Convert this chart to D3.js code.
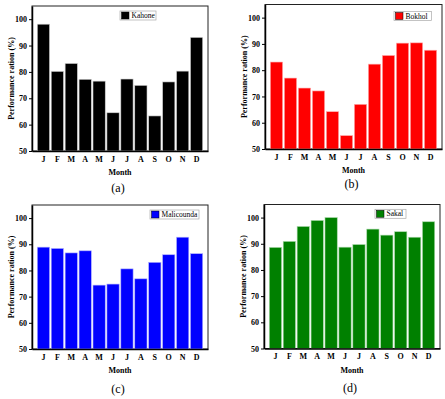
<!DOCTYPE html>
<html><head><meta charset="utf-8">
<script src="https://cdn.jsdelivr.net/npm/d3@7"></script>
<style>body{margin:0;background:#fff}svg{display:block}</style>
</head><body>
<script>
const months = ["J","F","M","A","M","J","J","A","S","O","N","D"];
const yTicks = [50,60,70,80,90,100];
const kahone = [98.1,80.2,83.2,77.2,76.5,64.5,77.3,74.9,63.3,76.2,80.3,93.1];
const bokhol = [83.1,77.0,73.2,72.1,64.2,55.1,67.0,82.3,85.6,90.3,90.4,87.6];
const malicounda = [88.9,88.4,86.7,87.5,74.4,74.8,80.6,76.8,83.1,86.0,92.7,86.4];
const sakal = [88.6,90.9,96.6,98.9,100.0,88.7,89.7,95.6,93.3,94.6,92.5,98.4];
const seriesNames = ["Kahone","Bokhol","Malicounda","Sakal"];
const panelLabels = ["(a)","(b)","(c)","(d)"];

const panels = [
  {values:kahone, name:seriesNames[0], tag:panelLabels[0], color:"#000000", edge:"#cfcfcf",
   box:[32,6,208,151], leg:[120,11,36], tagDy:41},
  {values:bokhol, name:seriesNames[1], tag:panelLabels[1], color:"#ff0000", edge:"#ffb0b0",
   box:[265,4.5,442,149], leg:[394,11.5,37.5], tagDy:39},
  {values:malicounda, name:seriesNames[2], tag:panelLabels[2], color:"#0000ff", edge:"#b0b0ff",
   box:[32,205,208,349], leg:[150,210,49], tagDy:44},
  {values:sakal, name:seriesNames[3], tag:panelLabels[3], color:"#008000", edge:"#a8d8a8",
   box:[264,204.5,440,348.5], leg:[375,209.3,31], tagDy:43}
];

const svg = d3.select("body").append("svg").attr("width",445).attr("height",399);
const font = "'Liberation Serif','Times New Roman',serif";

panels.forEach(p => {
  const [l,t,r,b] = p.box;
  const g = svg.append("g");
  const x = d3.scaleBand().domain(d3.range(months.length)).range([l,r]).paddingInner(0.12).paddingOuter(0.38);
  const y = d3.scaleLinear().domain([50,105]).range([b,t]);

  // frame
  g.append("rect").attr("x",l).attr("y",t).attr("width",r-l).attr("height",b-t)
    .attr("fill","none").attr("stroke","#222").attr("stroke-width",1);

  // bars
  g.selectAll("rect.bar").data(p.values).join("rect").attr("class","bar")
    .attr("x",(d,i)=>x(i)).attr("width",x.bandwidth())
    .attr("y",d=>y(d)).attr("height",d=>y(50)-y(d))
    .attr("fill",p.color).attr("stroke",p.edge).attr("stroke-width",0.6);

  // y axis
  const ya = g.append("g").attr("transform",`translate(${l},0)`)
    .call(d3.axisLeft(y).tickValues(yTicks).tickSize(3).tickSizeOuter(0).tickPadding(2));
  ya.select(".domain").attr("stroke","#000").attr("stroke-width",1.5);
  ya.selectAll(".tick line").attr("stroke","#000").attr("stroke-width",1);
  ya.selectAll("text").attr("font-family",font).attr("font-weight","bold").attr("font-size",8).attr("fill","#000");

  // x axis
  const xa = g.append("g").attr("transform",`translate(0,${b})`)
    .call(d3.axisBottom(x).tickFormat(i=>months[i]).tickSize(0).tickSizeOuter(0).tickPadding(5));
  xa.select(".domain").attr("stroke","#000").attr("stroke-width",1.5);
  xa.selectAll("text").attr("font-family",font).attr("font-weight","bold").attr("font-size",8).attr("fill","#000");

  // axis titles
  g.append("text").attr("x",(l+r)/2).attr("y",b+24).attr("text-anchor","middle")
    .attr("font-family",font).attr("font-weight","bold").attr("font-size",8).text("Month");
  g.append("text").attr("transform",`translate(${l-18},${(t+b)/2}) rotate(-90)`).attr("text-anchor","middle")
    .attr("font-family",font).attr("font-weight","bold").attr("font-size",8).text("Performance ration (%)");
  g.append("text").attr("x",(l+r)/2-2).attr("y",b+p.tagDy).attr("text-anchor","middle")
    .attr("font-family",font).attr("font-size",12).text(p.tag);

  // legend
  const [lx,ly,lw] = p.leg;
  g.append("rect").attr("x",lx).attr("y",ly).attr("width",lw).attr("height",9)
    .attr("fill","#fff").attr("stroke","#aaa").attr("stroke-width",0.7);
  g.append("rect").attr("x",lx+1.5).attr("y",ly+1).attr("width",7.5).attr("height",7)
    .attr("fill",p.color).attr("stroke","#000").attr("stroke-width",0.5);
  g.append("text").attr("x",lx+11.5).attr("y",ly+7).attr("font-family",font).attr("font-size",7.5).text(p.name);
});
</script>
</body></html>
